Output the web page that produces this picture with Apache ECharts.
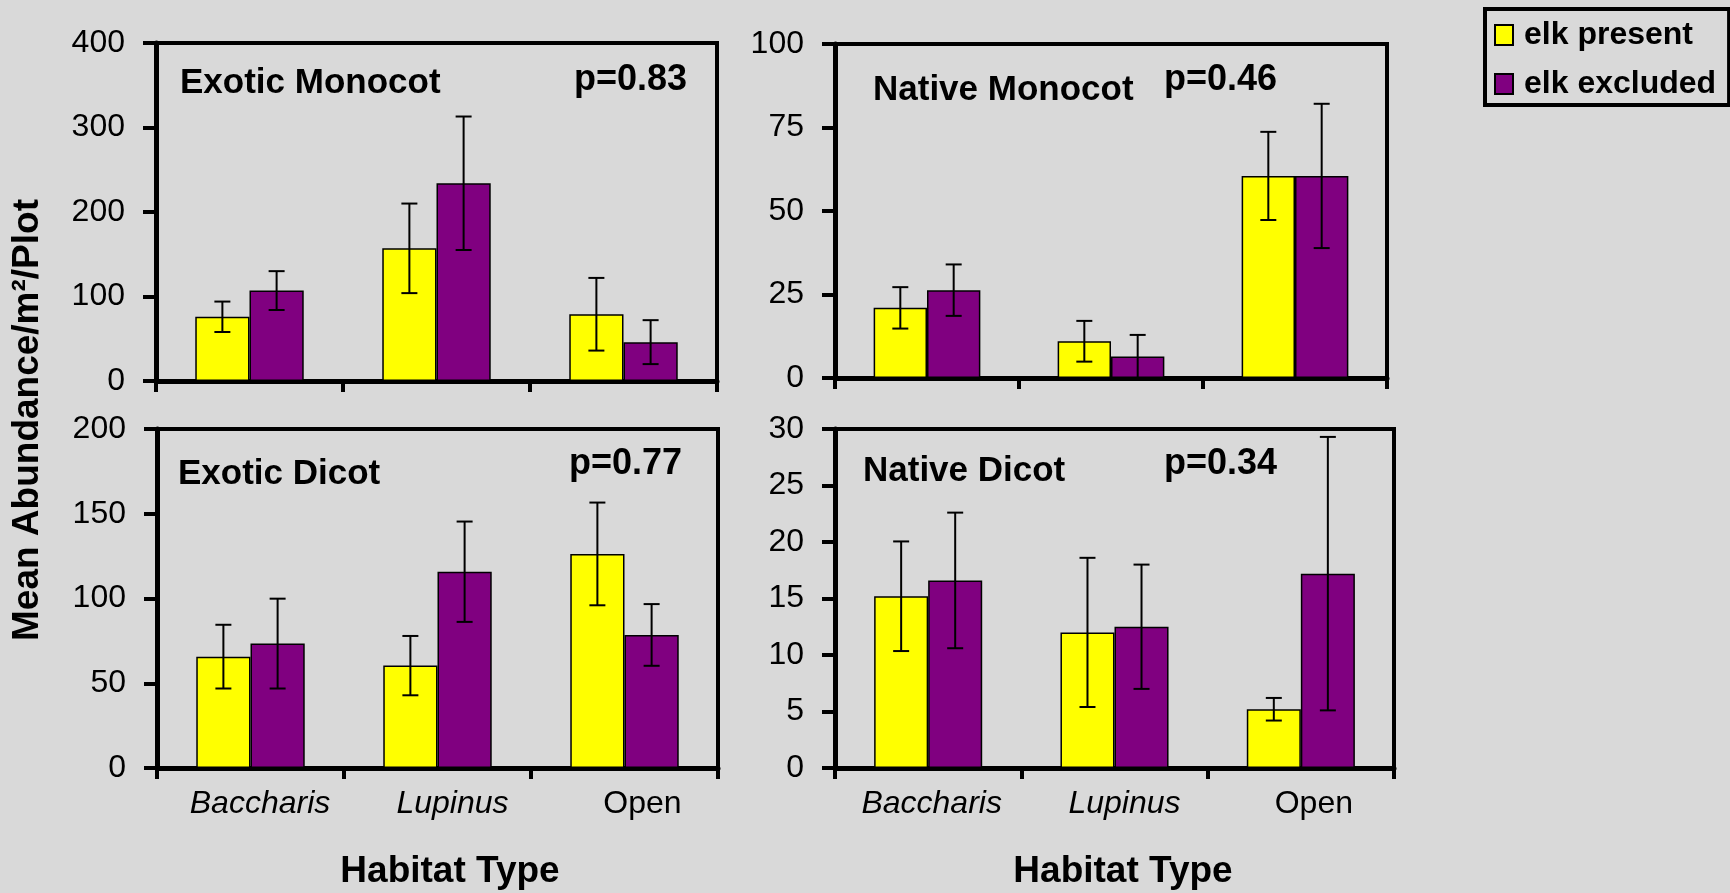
<!DOCTYPE html>
<html>
<head>
<meta charset="utf-8">
<script src="https://cdn.jsdelivr.net/npm/echarts@6/dist/echarts.min.js"></script>
<style>
  html, body { margin: 0; padding: 0; background: #d9d9d9; }
  #main { width: 1730px; height: 893px; }
</style>
</head>
<body>
<div id="main"></div>
<script>
// categories + values (mean, error = half bar length)
const categories = ['Baccharis', 'Lupinus', 'Open'];
const seriesNames = ['elk present', 'elk excluded'];

const exoticMonocotPresent = [76, 157, 79];
const exoticMonocotPresentErr = [18, 53, 43];
const exoticMonocotExcluded = [107, 234, 46];
const exoticMonocotExcludedErr = [23, 79, 26];

const nativeMonocotPresent = [21, 11, 60.5];
const nativeMonocotPresentErr = [6.2, 6.1, 13.2];
const nativeMonocotExcluded = [26.3, 6.4, 60.5];
const nativeMonocotExcludedErr = [7.7, 6.5, 21.6];

const exoticDicotPresent = [65.7, 60.4, 126.3];
const exoticDicotPresentErr = [18.8, 17.5, 30.3];
const exoticDicotExcluded = [73.4, 115.8, 78.5];
const exoticDicotExcludedErr = [26.5, 29.6, 18.2];

const nativeDicotPresent = [15.2, 12.0, 5.2];
const nativeDicotPresentErr = [4.85, 6.6, 1.0];
const nativeDicotExcluded = [16.6, 12.5, 17.2];
const nativeDicotExcludedErr = [6.0, 5.5, 12.1];

// y axis ticks per panel
const exoticMonocotTicks = [0, 100, 200, 300, 400];
const nativeMonocotTicks = [0, 25, 50, 75, 100];
const exoticDicotTicks = [0, 50, 100, 150, 200];
const nativeDicotTicks = [0, 5, 10, 15, 20, 25, 30];

const pValues = ['p=0.83', 'p=0.46', 'p=0.77', 'p=0.34'];
const panelTitles = ['Exotic Monocot', 'Native Monocot', 'Exotic Dicot', 'Native Dicot'];

const FONT = "'Liberation Sans', Arial, sans-serif";
const YELLOW = '#ffff00';
const PURPLE = '#800080';
const GAP = 0.42;

// layout of the 4 panels
const panels = [
  { grid: { left: 156, top: 43, width: 561, height: 338 }, ticks: exoticMonocotTicks,
    present: exoticMonocotPresent, presentErr: exoticMonocotPresentErr,
    excluded: exoticMonocotExcluded, excludedErr: exoticMonocotExcludedErr,
    titlePos: [180, 83], pPos: [687, 80], pAlign: 'right', labelShift: [19, 30, 36], showLabels: false },
  { grid: { left: 835, top: 44, width: 552, height: 334 }, ticks: nativeMonocotTicks,
    present: nativeMonocotPresent, presentErr: nativeMonocotPresentErr,
    excluded: nativeMonocotExcluded, excludedErr: nativeMonocotExcludedErr,
    titlePos: [873, 90], pPos: [1164, 80], pAlign: 'left', labelShift: [7, 20, 26], showLabels: false },
  { grid: { left: 157, top: 429, width: 561, height: 339 }, ticks: exoticDicotTicks,
    present: exoticDicotPresent, presentErr: exoticDicotPresentErr,
    excluded: exoticDicotExcluded, excludedErr: exoticDicotExcludedErr,
    titlePos: [178, 474], pPos: [682, 464], pAlign: 'right', labelShift: [19, 30, 36], showLabels: true },
  { grid: { left: 835, top: 429, width: 559, height: 339 }, ticks: nativeDicotTicks,
    present: nativeDicotPresent, presentErr: nativeDicotPresentErr,
    excluded: nativeDicotExcluded, excludedErr: nativeDicotExcludedErr,
    titlePos: [863, 471], pPos: [1164, 464], pAlign: 'left', labelShift: [7, 20, 26], showLabels: true }
];

const grids = [], xAxes = [], yAxes = [], series = [], graphics = [];

function errSeries(idx, means, errs, side) {
  return {
    type: 'custom',
    xAxisIndex: idx, yAxisIndex: idx,
    z: 10,
    data: means.map((m, i) => [i, Math.max(0, m - errs[i]), m + errs[i]]),
    encode: { x: 0, y: [1, 2] },
    renderItem: function (params, api) {
      const band = api.size([1, 0])[0];
      const w = band * (1 - GAP) / 2;
      const hi = api.coord([api.value(0), api.value(2)]);
      const lo = api.coord([api.value(0), api.value(1)]);
      const cx = hi[0] + side * w / 2;
      const cap = 8;
      const st = { stroke: '#000', lineWidth: 2 };
      return {
        type: 'group',
        children: [
          { type: 'line', shape: { x1: cx, y1: hi[1], x2: cx, y2: lo[1] }, style: st },
          { type: 'line', shape: { x1: cx - cap, y1: hi[1], x2: cx + cap, y2: hi[1] }, style: st },
          { type: 'line', shape: { x1: cx - cap, y1: lo[1], x2: cx + cap, y2: lo[1] }, style: st }
        ]
      };
    }
  };
}

panels.forEach((p, i) => {
  grids.push(Object.assign({ show: true, borderColor: '#000', borderWidth: 4, backgroundColor: 'transparent' }, p.grid));
  xAxes.push({
    type: 'category', gridIndex: i,
    data: categories.map((c, k) => ({
      value: c,
      textStyle: { fontStyle: c === 'Open' ? 'normal' : 'italic', padding: [0, 0, 0, p.labelShift[k]] }
    })),
    axisLine: { lineStyle: { color: '#000', width: 5 } },
    axisTick: { show: true, length: 11, lineStyle: { color: '#000', width: 4 } },
    axisLabel: { show: p.showLabels, fontFamily: FONT, fontSize: 32, color: '#000', margin: 20 },
    splitLine: { show: false }
  });
  const t = p.ticks;
  yAxes.push({
    type: 'value', gridIndex: i,
    min: t[0], max: t[t.length - 1], interval: t[1] - t[0],
    axisLine: { show: true, lineStyle: { color: '#000', width: 5 } },
    axisTick: { show: true, length: 13, lineStyle: { color: '#000', width: 4 } },
    axisLabel: { fontFamily: FONT, fontSize: 32, color: '#000', margin: 31 },
    splitLine: { show: false }
  });
  series.push({
    name: seriesNames[0], type: 'bar', xAxisIndex: i, yAxisIndex: i,
    data: p.present, barGap: '0%', barCategoryGap: (GAP * 100) + '%',
    itemStyle: { color: YELLOW, borderColor: '#000', borderWidth: 1.5 }
  });
  series.push({
    name: seriesNames[1], type: 'bar', xAxisIndex: i, yAxisIndex: i,
    data: p.excluded, barGap: '0%', barCategoryGap: (GAP * 100) + '%',
    itemStyle: { color: PURPLE, borderColor: '#000', borderWidth: 1.5 }
  });
  series.push(errSeries(i, p.present, p.presentErr, -1));
  series.push(errSeries(i, p.excluded, p.excludedErr, 1));

  graphics.push({
    type: 'text', x: p.titlePos[0], y: p.titlePos[1], z: 20,
    style: { text: panelTitles[i], font: 'bold 35px ' + FONT, fill: '#000', align: 'left', verticalAlign: 'middle' }
  });
  graphics.push({
    type: 'text', x: p.pPos[0], y: p.pPos[1], z: 20,
    style: { text: pValues[i], font: 'bold 36px ' + FONT, fill: '#000', align: p.pAlign, verticalAlign: 'middle' }
  });
});

// axis titles
graphics.push({
  type: 'text', x: 28, y: 420, rotation: Math.PI / 2,
  style: { text: 'Mean Abundance/m\u00b2/Plot', font: 'bold 37px ' + FONT, fill: '#000', align: 'center', verticalAlign: 'middle' }
});
graphics.push({
  type: 'text', x: 450, y: 872,
  style: { text: 'Habitat Type', font: 'bold 37px ' + FONT, fill: '#000', align: 'center', verticalAlign: 'middle' }
});
graphics.push({
  type: 'text', x: 1123, y: 872,
  style: { text: 'Habitat Type', font: 'bold 37px ' + FONT, fill: '#000', align: 'center', verticalAlign: 'middle' }
});

const chart = echarts.init(document.getElementById('main'));
chart.setOption({
  backgroundColor: '#d9d9d9',
  animation: false,
  grid: grids,
  xAxis: xAxes,
  yAxis: yAxes,
  series: series,
  graphic: graphics,
  legend: {
    data: seriesNames,
    orient: 'vertical',
    left: 1485, top: 9,
    padding: [10, 13, 5, 9],
    itemGap: 17,
    itemWidth: 18, itemHeight: 20,
    icon: 'rect',
    borderColor: '#000', borderWidth: 4,
    itemStyle: { borderColor: '#000', borderWidth: 2 },
    textStyle: { fontFamily: FONT, fontSize: 32, fontWeight: 'bold', color: '#000', padding: [0, 0, 0, 6] }
  }
});
</script>
</body>
</html>
